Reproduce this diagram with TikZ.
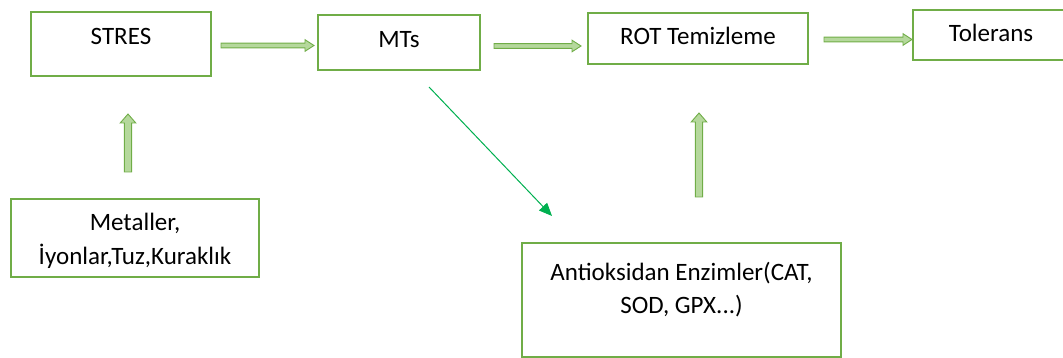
\documentclass[tikz,border=0pt]{standalone}
\usepackage{fontspec}
\setmainfont{Carlito}
\usetikzlibrary{calc,arrows.meta}
\definecolor{boxgreen}{HTML}{70AD47}
\definecolor{shaftfill}{HTML}{B5D89C}
\definecolor{linkgreen}{HTML}{00B050}
\begin{document}
\begin{tikzpicture}[x=1pt,y=-1pt,
  box/.style={draw=boxgreen, line width=2pt, inner xsep=0pt, inner ysep=0pt,
    text=black, font=\fontsize{25}{30}\selectfont},
  % block arrow: #1 half shaft width, #2 half head width, #3 head length
  hollow/.style n args={3}{draw=boxgreen, fill=shaftfill, line width=0.9pt,
    to path={
      let \p1=($(\tikztotarget)!#3!(\tikztostart)$) in
      ($(\tikztostart)!#1!90:(\tikztotarget)$)
      -- ($(\p1)!#1!90:(\tikztotarget)$)
      -- ($(\p1)!#2!90:(\tikztotarget)$)
      -- (\tikztotarget)
      -- ($(\p1)!#2!-90:(\tikztotarget)$)
      -- ($(\p1)!#1!-90:(\tikztotarget)$)
      -- ($(\tikztostart)!#1!-90:(\tikztotarget)$)
      -- cycle}},
  flatarrow/.style={hollow={2.4pt}{5.8pt}{9pt}},
  tallarrow/.style={hollow={3.6pt}{7.8pt}{9pt}},
  link/.style={draw=linkgreen, line width=1pt,
    -{Triangle[length=13pt,width=11pt]}}]
\useasboundingbox (0,0) rectangle (1063,358);

% top row
\node[box, anchor=base, minimum width=180pt, text height=33pt, text depth=31pt]
  (stres) at (121,45) {STRES};
\node[box, anchor=base, minimum width=162pt, text height=33pt, text depth=22pt]
  (mts) at (399,48) {MTs};
\node[box, anchor=base, minimum width=220pt, text height=32pt, text depth=19pt]
  (rot) at (698,45) {ROT Temizleme};
\node[box, anchor=base, minimum width=156pt, text height=32pt, text depth=18pt]
  (tol) at (991,42) {Tolerans};

% lower boxes
\node[box, anchor=base, minimum width=248pt, text height=32pt, text depth=46pt,
  font=\fontsize{25}{34}\selectfont]
  (causes) at (135,231) {\begin{tabular}[t]{@{}c@{}}Metaller,\\İyonlar,Tuz,Kuraklık\end{tabular}};
\node[box, anchor=base, minimum width=319pt, text height=37pt, text depth=77pt,
  font=\fontsize{25}{33}\selectfont]
  (enz) at (681.5,280) {\begin{tabular}[t]{@{}c@{}}Antioksidan Enzimler(CAT,\\SOD, GPX...)\end{tabular}};

% block arrows
\draw[flatarrow] ($(stres.east)+(9,1.5)$) to ($(mts.west)+(-3,3)$);
\draw[flatarrow] ($(mts.east)+(13,3.5)$) to ($(rot.west)+(-6,7.5)$);
\draw[flatarrow] ($(rot.east)+(15,1)$) to ($(tol.west)+(0,4.5)$);
\draw[tallarrow] ($(causes.north)+(-7,-26)$) to ($(stres.south)+(7,37)$);
\draw[tallarrow] ($(enz.north)+(17.5,-45)$) to ($(rot.south)+(1,48)$);

% thin link
\draw[link] ($(mts.south)+(30,16)$) -- ($(enz.north)+(-129.5,-26)$);
\end{tikzpicture}
\end{document}
